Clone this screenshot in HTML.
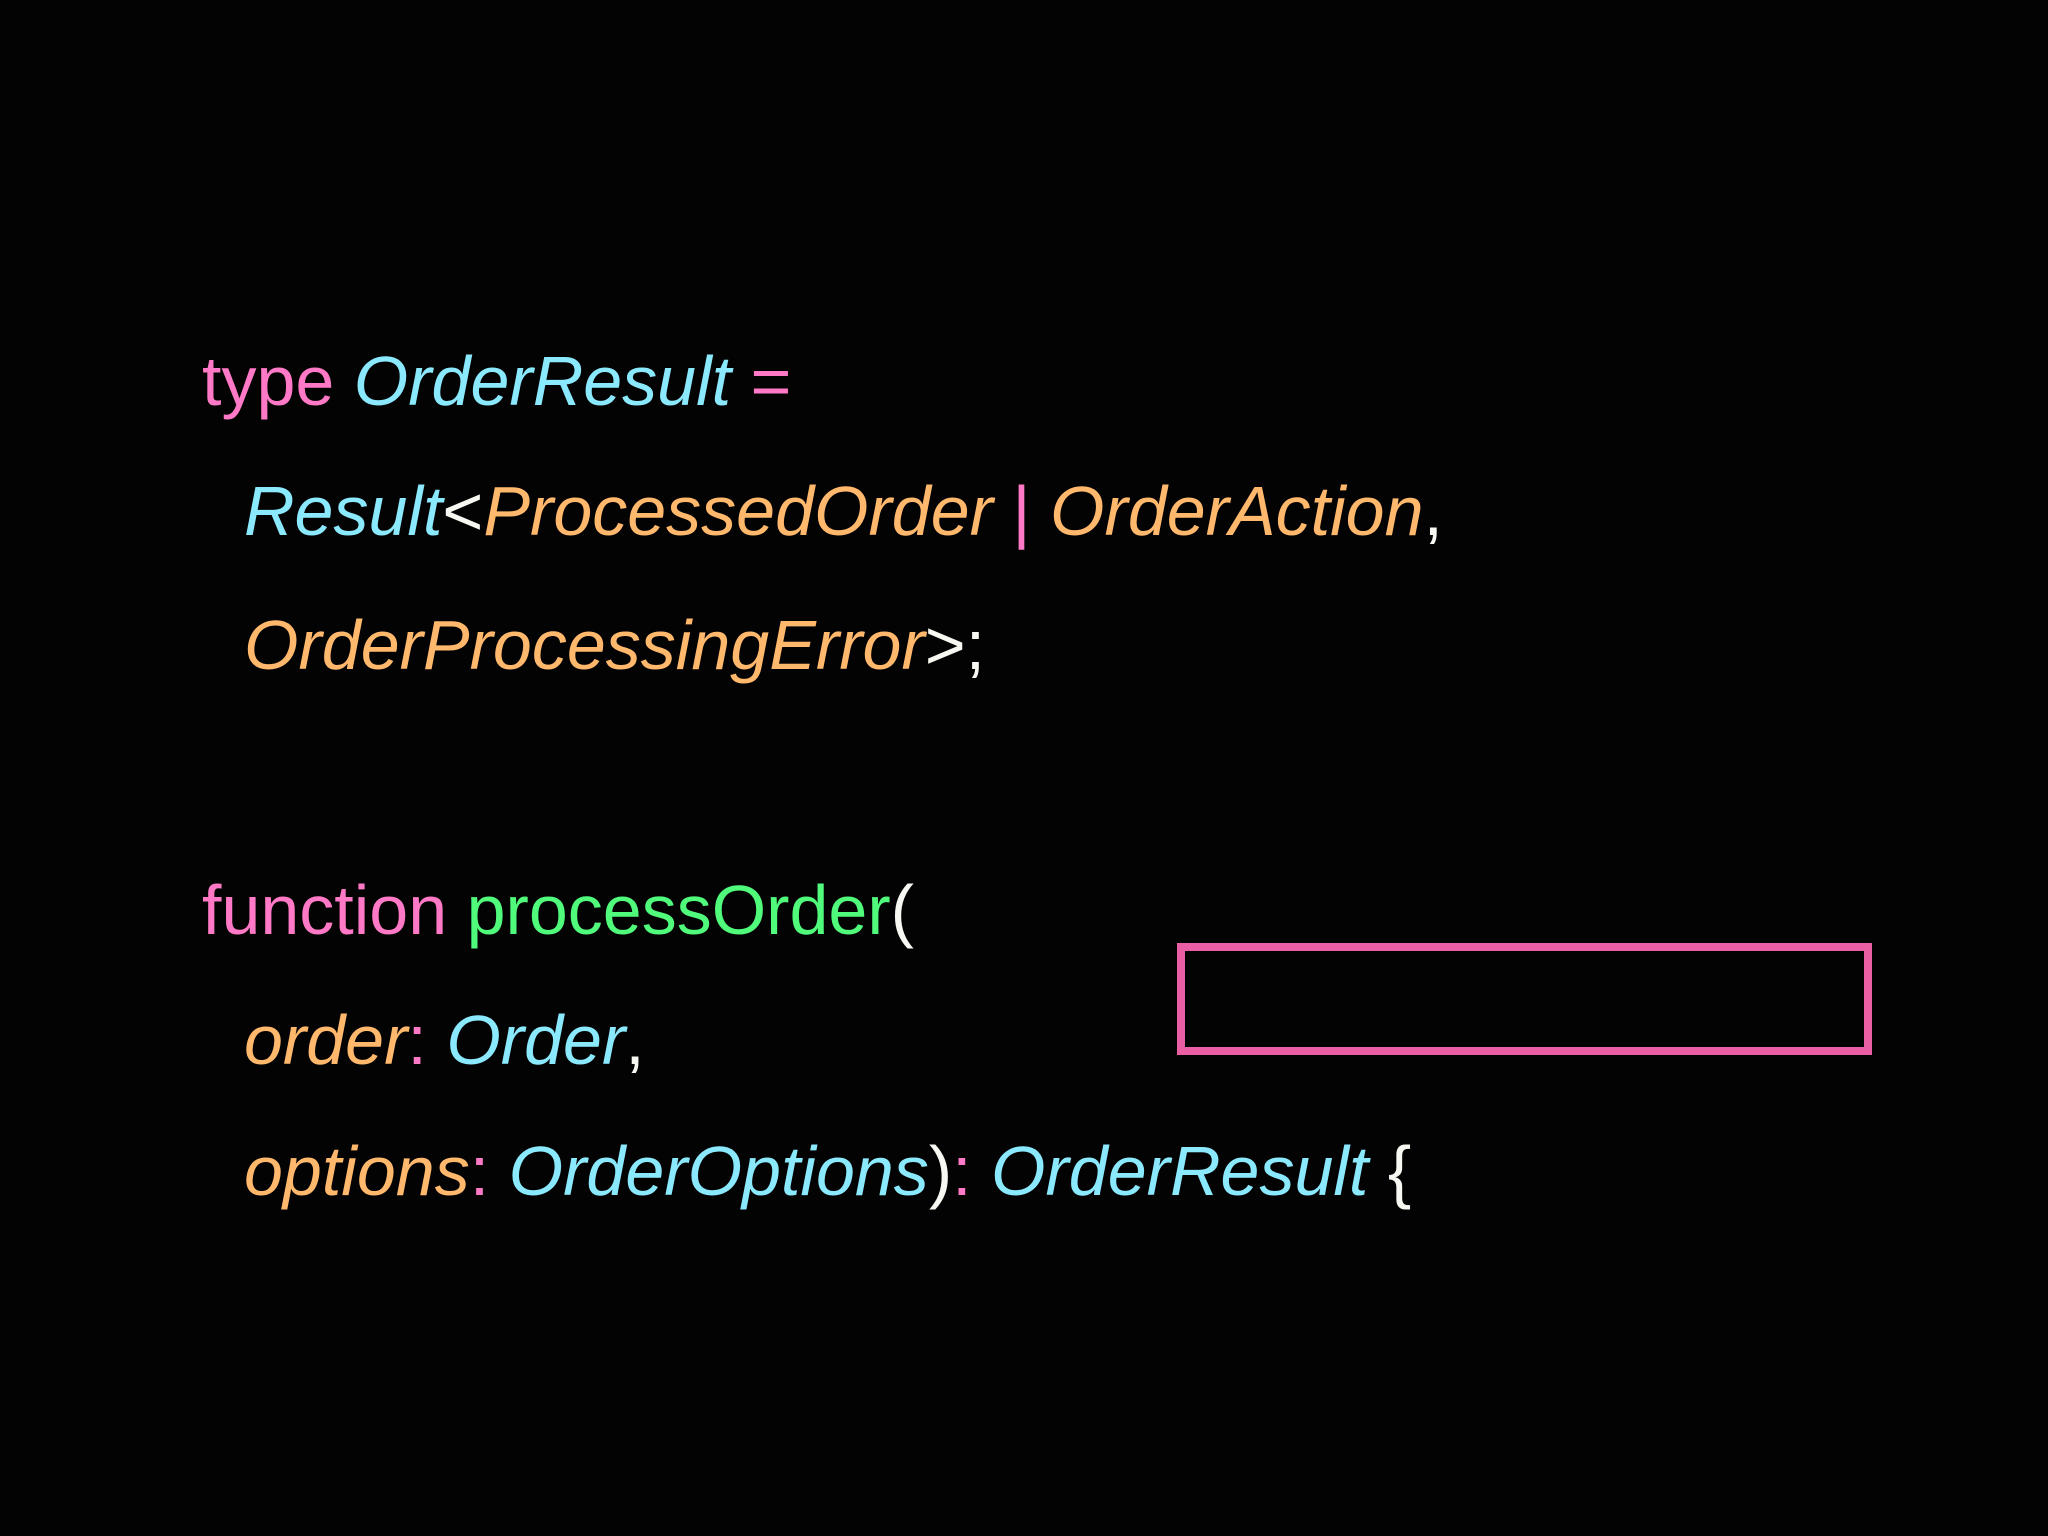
<!DOCTYPE html>
<html><head><meta charset="utf-8"><style>
html,body{margin:0;padding:0;background:#040304;}
svg{display:block}
text{font-family:"Liberation Sans",sans-serif;font-size:70px;}
.k{fill:#ff79c6}.c{fill:#8be9fd;font-style:italic}.o{fill:#ffb86c;font-style:italic}.g{fill:#50fa7b}.w{fill:#f8f8f2}
</style></head><body>
<svg width="2048" height="1536" xmlns="http://www.w3.org/2000/svg">
<rect width="2048" height="1536" fill="#040304"/>
<text x="202" y="405" xml:space="preserve"><tspan class="k">type </tspan><tspan class="c">OrderResult</tspan><tspan class="k"> =</tspan></text>
<text x="244" y="535" xml:space="preserve"><tspan class="c">Result</tspan><tspan class="w">&lt;</tspan><tspan class="o">ProcessedOrder </tspan><tspan class="k">|</tspan><tspan class="o"> OrderAction</tspan><tspan class="w">,</tspan></text>
<text x="244" y="669" xml:space="preserve"><tspan class="o">OrderProcessingError</tspan><tspan class="w">&gt;;</tspan></text>
<text x="202" y="934" xml:space="preserve"><tspan class="k">function </tspan><tspan class="g">processOrder</tspan><tspan class="w">(</tspan></text>
<text x="244" y="1064" xml:space="preserve"><tspan class="o">order</tspan><tspan class="k">: </tspan><tspan class="c">Order</tspan><tspan class="w">,</tspan></text>
<text x="244" y="1195" xml:space="preserve"><tspan class="o">options</tspan><tspan class="k">: </tspan><tspan class="c">OrderOptions</tspan><tspan class="w">)</tspan><tspan class="k">: </tspan><tspan class="c">OrderResult</tspan><tspan class="w"> {</tspan></text>
<rect x="1181" y="947" width="687" height="104" fill="none" stroke="#ea5fa3" stroke-width="8"/>
</svg>
</body></html>
